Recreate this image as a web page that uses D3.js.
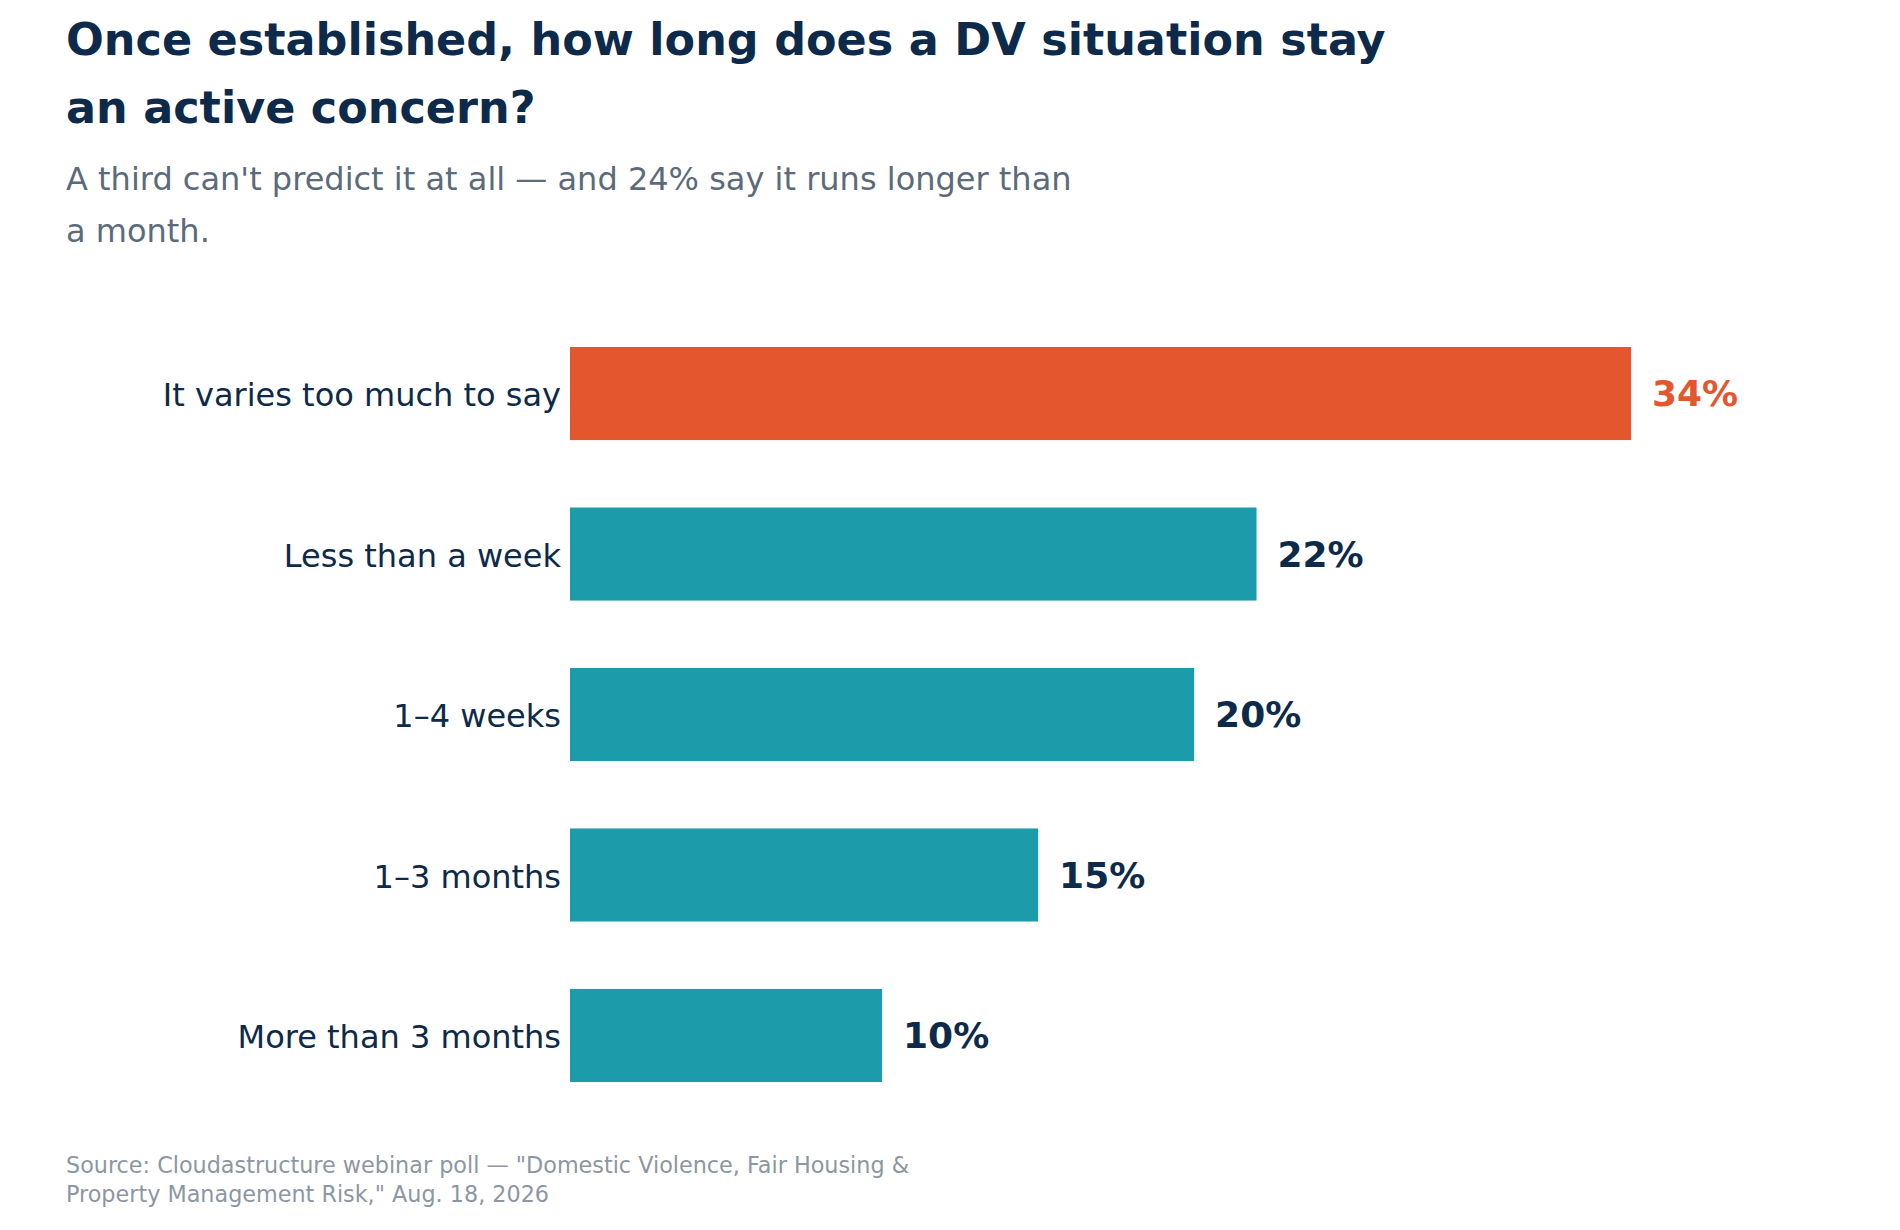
<!DOCTYPE html>
<html>
<head>
<meta charset="utf-8">
<script src="https://cdn.jsdelivr.net/npm/d3@7"></script>
<style>
  html, body { margin: 0; padding: 0; background: #ffffff; }
  svg text { font-family: "DejaVu Sans", sans-serif; }
</style>
</head>
<body>
<div id="chart"></div>
<script>
// ---- data ----
const categories = [
    "It varies too much to say",
    "Less than a week",
    "1\u20134 weeks",
    "1\u20133 months",
    "More than 3 months"
]
const values = [34, 22, 20, 15, 10]
const highlight = [true, false, false, false, false]

const title_lines = [
    "Once established, how long does a DV situation stay",
    "an active concern?"
]
const subtitle_lines = [
    "A third can't predict it at all \u2014 and 24% say it runs longer than",
    "a month."
]
const source_lines = [
    "Source: Cloudastructure webinar poll \u2014 \"Domestic Violence, Fair Housing &",
    "Property Management Risk,\" Aug. 18, 2026"
]

// ---- layout ----
const svg_width = 1900,
    svg_height = 1230,
    margin = { left: 66 },
    plot = { left: 570, right: 1631, top: 347, bottom: 1082 }

const navy = "#0d2a4a",
    orange = "#e4572e",
    teal = "#1c9baa"

const svg = d3.select("#chart")
    .append("svg")
    .attr("width", svg_width)
    .attr("height", svg_height)

// title + subtitle
svg.append("g")
    .selectAll("text")
    .data(title_lines)
    .join("text")
    .attr("x", margin.left)
    .attr("y", (d, i) => 55 + i * 68)
    .attr("fill", navy)
    .attr("font-size", 44.5)
    .attr("font-weight", "bold")
    .text(d => d)

svg.append("g")
    .selectAll("text")
    .data(subtitle_lines)
    .join("text")
    .attr("x", margin.left)
    .attr("y", (d, i) => 190 + i * 52)
    .attr("fill", "#5b6b7b")
    .attr("font-size", 32)
    .text(d => d)

// scales
const xScale = d3.scaleLinear()
    .domain([0, d3.max(values)])
    .range([plot.left, plot.right])

const yScale = d3.scaleBand()
    .domain(categories)
    .range([plot.top, plot.bottom])
    .paddingInner(0.42)
    .paddingOuter(0)

// category axis, no line / ticks
const y_axis = svg.append("g")
    .attr("transform", "translate(" + (plot.left - 9) + ",0)")
    .call(d3.axisLeft(yScale).tickSize(0).tickPadding(0))

y_axis.select(".domain").remove()
y_axis.selectAll("text")
    .attr("fill", navy)
    .attr("font-size", 32)
    .attr("dy", "0.4em")
    .attr("font-family", "DejaVu Sans, sans-serif")

// bars
svg.append("g")
    .selectAll("rect")
    .data(values)
    .join("rect")
    .attr("x", xScale(0))
    .attr("y", (d, i) => yScale(categories[i]))
    .attr("width", d => xScale(d) - xScale(0))
    .attr("height", yScale.bandwidth())
    .attr("fill", (d, i) => highlight[i] ? orange : teal)

// value labels
svg.append("g")
    .selectAll("text")
    .data(values)
    .join("text")
    .attr("x", d => xScale(d) + 21)
    .attr("y", (d, i) => yScale(categories[i]) + yScale.bandwidth() / 2)
    .attr("dy", "0.35em")
    .attr("fill", (d, i) => highlight[i] ? orange : navy)
    .attr("font-size", 36)
    .attr("font-weight", "bold")
    .text(d => d + "%")

// source
svg.append("g")
    .selectAll("text")
    .data(source_lines)
    .join("text")
    .attr("x", margin.left)
    .attr("y", (d, i) => 1173 + i * 29)
    .attr("fill", "#8c97a3")
    .attr("font-size", 22.3)
    .text(d => d)
</script>
</body>
</html>
